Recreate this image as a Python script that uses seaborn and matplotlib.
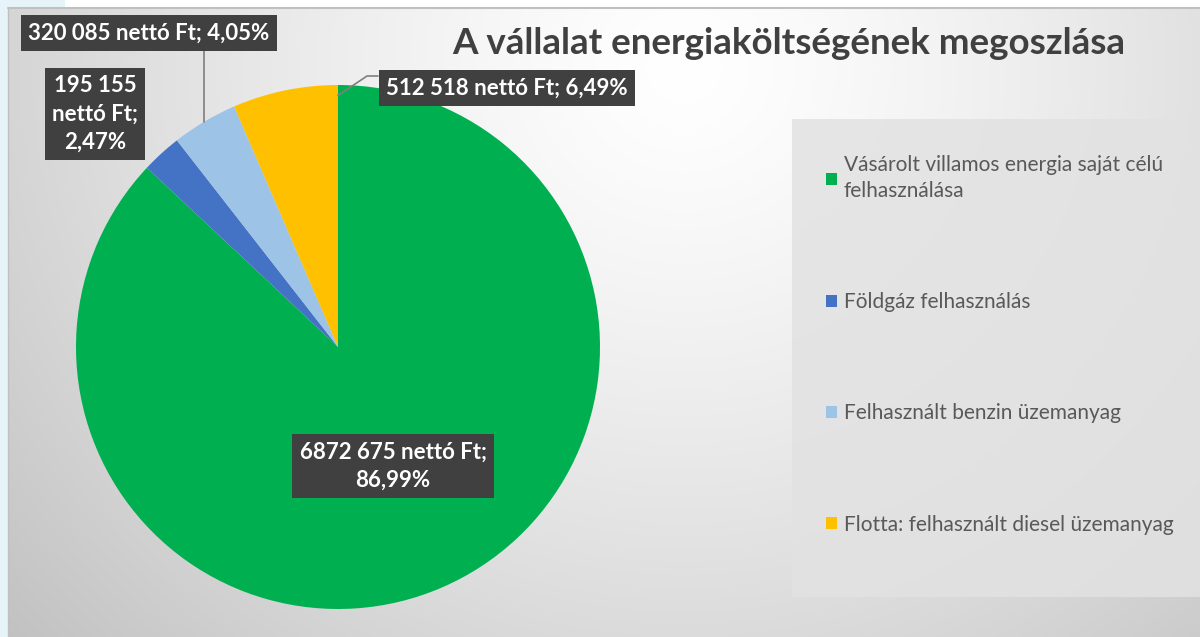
import numpy as np
import matplotlib
matplotlib.use("Agg")
import matplotlib.pyplot as plt
from matplotlib.patches import Rectangle
import seaborn as sns

# ---- data ----
categories = [
    "Vásárolt villamos energia saját célú\nfelhasználása",
    "Földgáz felhasználás",
    "Felhasznált benzin üzemanyag",
    "Flotta: felhasznált diesel üzemanyag",
]
values = [6872675, 195155, 320085, 512518]
value_labels = [
    "6872 675 nettó Ft;\n86,99%",
    "195 155\nnettó Ft;\n2,47%",
    "320 085 nettó Ft; 4,05%",
    "512 518 nettó Ft; 6,49%",
]
colors = ["#00B050", "#4472C4", "#9DC3E6", "#FFC000"]
title = "A vállalat energiaköltségének megoszlása"

sns.set_theme(style="white")
plt.rcParams["font.family"] = ["Lato", "DejaVu Sans"]

W, H = 1200, 637
fig = plt.figure(figsize=(W / 100, H / 100), dpi=100)
fig.patch.set_facecolor("white")

# ---- background gradient ----
bg = fig.add_axes([0, 0, 1, 1], zorder=0)
bg.set_xlim(0, W)
bg.set_ylim(H, 0)
bg.axis("off")
yy, xx = np.mgrid[0:H, 0:W]
d = np.sqrt((xx - 680.0) ** 2 + ((yy - 60.0) * 1.05) ** 2)
v = 1.0 - 0.23 * np.clip(d / 880.0, 0, 1.2) ** 1.3
img = np.dstack([v, v, v])
bg.imshow(img, extent=(8, W, H, 8), aspect="auto", zorder=0)
# slide background (light blue) at top-left
bg.add_patch(Rectangle((0, 0), 8, H, color="#e6f4fa", zorder=1, lw=0))
bg.add_patch(Rectangle((0, 0), 65, 8, color="#e6f4fa", zorder=1, lw=0))
bg.plot([8, W], [8, 8], color="#c0c0c0", lw=1.5, zorder=2)
bg.plot([8, 8], [8, H], color="#c0c0c0", lw=1.0, zorder=2)
# legend panel
bg.add_patch(Rectangle((792, 119), W - 792, 478, facecolor="#e2e2e2",
                       edgecolor="none", alpha=0.85, zorder=2))

# ---- pie ----
cx, cy, r = 338, 347, 262
ax = fig.add_axes([(cx - r) / W, (H - cy - r) / H, 2 * r / W, 2 * r / H], zorder=2)
wedges, _ = ax.pie(values, colors=colors, startangle=90, counterclock=False,
                   radius=1.0, wedgeprops=dict(linewidth=0))
ax.set_xlim(-1, 1)
ax.set_ylim(-1, 1)
ax.axis("off")

def px(x, y):
    return (x - cx) / r, (cy - y) / r

box = dict(boxstyle="square,pad=0.32", facecolor="#404040", edgecolor="none")
tkw = dict(color="white", fontweight="bold", fontsize=16, ha="center",
           va="center", bbox=box, zorder=5, linespacing=1.42)

# angles of wedge midpoints
total = float(sum(values))
cum = np.cumsum([0] + values)
mids = [90 - 360 * (cum[i] + values[i] / 2) / total for i in range(len(values))]

# green label
ax.text(*px(393, 466), value_labels[0], **tkw)
# blue label
ax.text(*px(95, 114), value_labels[1], **tkw)
# light blue label with leader
lb = np.deg2rad(mids[2])
ax.text(*px(149, 33), value_labels[2], **tkw)
ax.plot([np.cos(lb), np.cos(lb)], [np.sin(lb), px(0, 50)[1]], color="#7f7f7f",
        lw=1.2, zorder=4, clip_on=False)
# yellow label with leader
ax.text(*px(507, 88), value_labels[3], **tkw)
p1 = px(367, 76)
p2 = px(378, 76)
ax.plot([0.0, p1[0], p2[0]], [0.96, p1[1], p2[1]], color="#7f7f7f", lw=1.2,
        zorder=4, clip_on=False)

# ---- title ----
fig.text(789 / W, 1 - 44 / H, title, ha="center", va="center", fontsize=26.5,
         fontweight="bold", color="#404040")

# ---- legend ----
leg = fig.legend(wedges, categories, loc="upper left",
                 bbox_to_anchor=(826 / W, 1 - 155 / H), frameon=False,
                 fontsize=15, labelcolor="#595959", handlelength=0.55,
                 handleheight=0.55, handletextpad=0.3, labelspacing=4.37,
                 borderaxespad=0, borderpad=0)
for t in leg.get_texts():
    t.set_linespacing(1.4)

fig.savefig("out.png", dpi=100, facecolor=fig.get_facecolor())
